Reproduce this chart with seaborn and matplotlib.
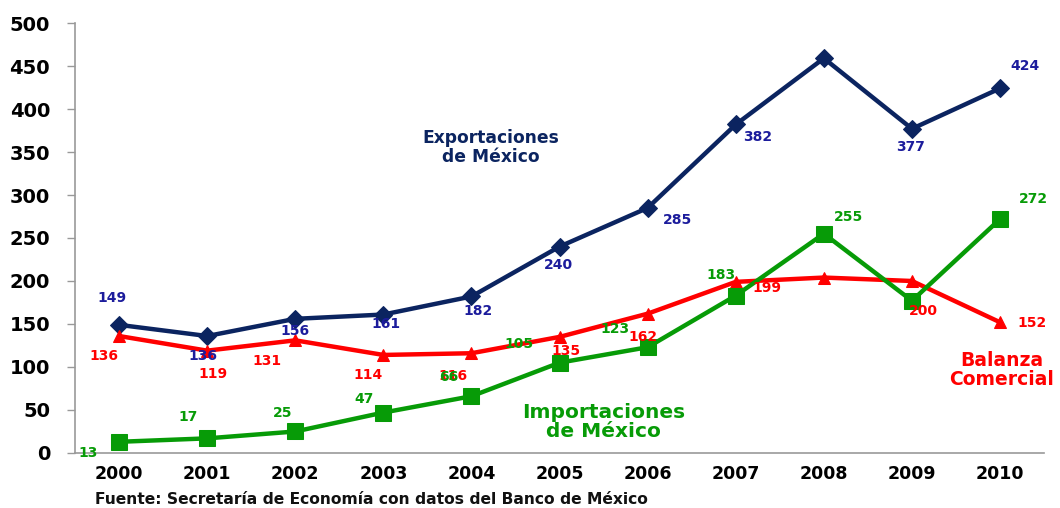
import numpy as np
import pandas as pd
import matplotlib
matplotlib.use('Agg')
import matplotlib.pyplot as plt
from matplotlib.ticker import MultipleLocator, FixedLocator
import seaborn as sns

# Data
years = ['2000', '2001', '2002', '2003', '2004', '2005', '2006', '2007', '2008', '2009', '2010']
exportaciones = [149, 136, 156, 161, 182, 240, 285, 382, 459, 377, 424]
balanza = [136, 119, 131, 114, 116, 135, 162, 199, 204, 200, 152]
importaciones = [13, 17, 25, 47, 66, 105, 123, 183, 255, 177, 272]

# labels as printed on the chart (some missing)
exp_labels = ['149', '136', '156', '161', '182', '240', '285', '382', None, '377', '424']
bal_labels = ['136', '119', '131', '114', '116', '135', '162', '199', None, '200', '152']
imp_labels = ['13', '17', '25', '47', '66', '105', '123', '183', '255', None, '272']

# label offsets in pixels (dx, dy) relative to each point
exp_off = [(-7, 27), (-4, -20), (0, -12), (3, -9), (7, -15), (-1, -18), (30, -12), (22, -13), (0, 0), (-1, -18), (25, 22)]
bal_off = [(-15, -20), (6, -23), (-28, -21), (-15, -20), (-18, -23), (6, -14), (-5, -23), (31, -6), (0, 0), (11, -30), (32, -1)]
imp_off = [(-31, -11), (-19, 21), (-13, 18), (-19, 14), (-23, 19), (-41, 19), (-33, 18), (-15, 21), (25, 17), (0, 0), (33, 20)]

navy = '#0b2460'
navy_txt = '#1c1c9c'
red = '#ff0000'
green = '#079b07'

x = np.arange(len(years))
df = pd.DataFrame({'x': x, 'exp': exportaciones, 'bal': balanza, 'imp': importaciones})

sns.set_style('white')
plt.rcParams['font.family'] = ['DejaVu Sans']

fig = plt.figure(figsize=(10.6, 5.08), dpi=100)
ax = fig.add_axes([0.0708, 0.1083, 0.9142, 0.8464])

sns.lineplot(data=df, x='x', y='exp', ax=ax, color=navy, linewidth=3.2,
             marker='D', markersize=9, markeredgecolor=navy)
sns.lineplot(data=df, x='x', y='bal', ax=ax, color=red, linewidth=3.2,
             marker='^', markersize=9, markeredgecolor=red)
sns.lineplot(data=df, x='x', y='imp', ax=ax, color=green, linewidth=3.2,
             marker='s', markersize=11, markeredgecolor=green)

for vals, labs, offs, col in [(exportaciones, exp_labels, exp_off, navy_txt),
                              (balanza, bal_labels, bal_off, red),
                              (importaciones, imp_labels, imp_off, green)]:
    for i, (v, lab, off) in enumerate(zip(vals, labs, offs)):
        if lab is None:
            continue
        ax.annotate(lab, (i, v), xytext=off, textcoords='offset pixels',
                    ha='center', va='center', fontsize=10, fontweight='bold', color=col)

ax.set_xlim(-0.5, 10.5)
ax.set_ylim(0, 500)
ax.yaxis.set_major_locator(MultipleLocator(50))
ax.set_xticks(x)
ax.set_xticklabels(years)
ax.xaxis.set_minor_locator(FixedLocator(np.arange(-0.5, 11, 1)))
ax.tick_params(axis='x', which='major', length=0, pad=9, labelsize=12.5, labelcolor='black')
ax.tick_params(axis='x', which='minor', length=6, width=1, color='#999999', direction='out')
ax.tick_params(axis='y', length=6, width=1, color='#999999', pad=12, labelsize=14,
               left=True, labelcolor='black')
for t in ax.get_xticklabels() + ax.get_yticklabels():
    t.set_fontweight('bold')
ax.set_xlabel('')
ax.set_ylabel('')

for s in ['top', 'right']:
    ax.spines[s].set_visible(False)
for s in ['left', 'bottom']:
    ax.spines[s].set_color('#999999')
    ax.spines[s].set_linewidth(1.2)

ax.text(4.22, 355, 'Exportaciones\nde México', ha='center', va='center', fontsize=12.3,
        fontweight='bold', color=navy, linespacing=1.05)
ax.text(5.5, 36, 'Importaciones\nde México', ha='center', va='center', fontsize=14.5,
        fontweight='bold', color=green, linespacing=1.0)
ax.text(10.02, 96, 'Balanza\nComercial', ha='center', va='center', fontsize=13.5,
        fontweight='bold', color=red, linespacing=1.0)

fig.text(95 / 1060, 1 - 500 / 508, 'Fuente: Secretaría de Economía con datos del Banco de México',
         ha='left', va='center', fontsize=11.2, fontweight='bold', color='#111111')

fig.savefig('out.png', dpi=100)
